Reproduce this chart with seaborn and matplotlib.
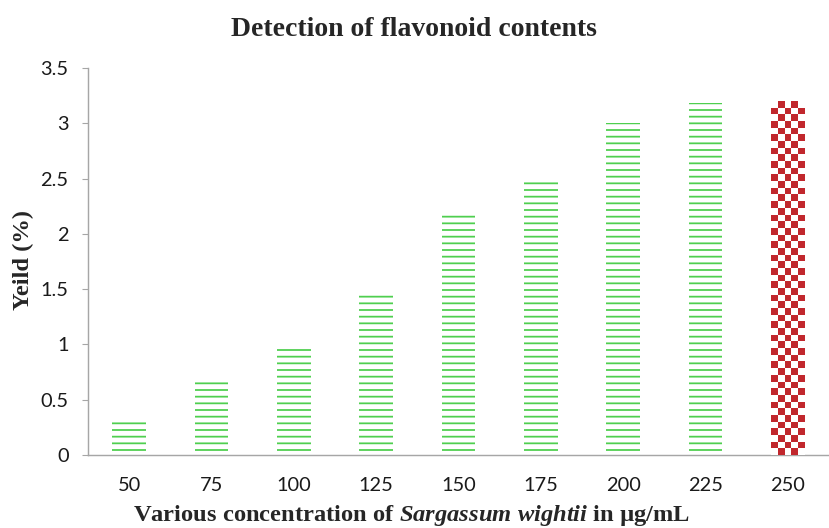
import numpy as np
import matplotlib
matplotlib.use("Agg")
import matplotlib.pyplot as plt
from matplotlib.colors import ListedColormap
import seaborn as sns
import pandas as pd

categories = ["50", "75", "100", "125", "150", "175", "200", "225", "250"]
values = [0.30, 0.67, 0.98, 1.46, 2.20, 2.50, 3.00, 3.18, 3.20]
yticks = [0, 0.5, 1, 1.5, 2, 2.5, 3, 3.5]
ytick_labels = ["0", "0.5", "1", "1.5", "2", "2.5", "3", "3.5"]

title = "Detection of flavonoid contents"
xlabel = r"Various concentration of $\mathit{Sargassum\ wightii}$ in µg/mL"
ylabel = "Yeild (%)"

green = "#4fcf4f"
red = "#c1272d"
grey = "#a6a6a6"

sns.set_theme(style="white")
plt.rcParams["font.family"] = ["Lato", "DejaVu Sans"]
plt.rcParams["mathtext.fontset"] = "custom"
plt.rcParams["mathtext.it"] = "Liberation Serif:italic:bold"
plt.rcParams["mathtext.rm"] = "Liberation Serif:bold"
plt.rcParams["mathtext.bf"] = "Liberation Serif:bold"
plt.rcParams["hatch.linewidth"] = 1.6

DPI = 80
W, H = 829, 528
fig = plt.figure(figsize=(W / DPI, H / DPI), dpi=DPI)
ax_left, ax_bottom, ax_top, ax_right = 88, 455, 68, 829
ax = fig.add_axes([ax_left / W, 1 - ax_bottom / H, (ax_right - ax_left) / W, (ax_bottom - ax_top) / H])

df = pd.DataFrame({"conc": categories, "yield": values})
sns.barplot(data=df, x="conc", y="yield", order=categories, color="white",
            width=0.41, edgecolor=green, linewidth=0, hatch="--", ax=ax,
            errorbar=None, saturation=1)

ax.set_ylim(0, 3.5)
ax.set_xlim(-0.5, len(categories) - 0.5)

# last bar: red checkerboard
last = ax.patches[len(categories) - 1]
last.set_hatch(None)
last.set_facecolor("white")
x0, w, h = last.get_x(), last.get_width(), last.get_height()
fig.canvas.draw()
p0 = ax.transData.transform((x0, 0))
p1 = ax.transData.transform((x0 + w, h))
sq = 6.67
ncols = max(1, int(round(abs(p1[0] - p0[0]) / sq)))
nrows = max(1, int(round(abs(p1[1] - p0[1]) / sq)))
board = (np.indices((nrows, ncols)).sum(axis=0) % 2).astype(float)
im = ax.imshow(board, cmap=ListedColormap(["white", red]), extent=(x0, x0 + w, 0, h),
               origin="upper", aspect="auto", interpolation="nearest", zorder=3)
im.set_clip_path(last)
ax.set_ylim(0, 3.5)
ax.set_xlim(-0.5, len(categories) - 0.5)

ax.set_yticks(yticks)
ax.set_yticklabels(ytick_labels)
ax.tick_params(axis="y", length=5.5, width=1, color=grey, direction="out", labelsize=18, pad=12, left=True)
ax.tick_params(axis="x", length=0, labelsize=18, pad=20)
for lab in ax.get_xticklabels() + ax.get_yticklabels():
    lab.set_color("#1a1a1a")

for s in ["top", "right"]:
    ax.spines[s].set_visible(False)
for s in ["left", "bottom"]:
    ax.spines[s].set_color(grey)
    ax.spines[s].set_linewidth(1.3)

ax.set_xlabel(xlabel, fontsize=22, fontfamily="Liberation Serif", fontweight="bold", va="center")
ax.set_ylabel(ylabel, fontsize=22, fontfamily="Liberation Serif", fontweight="bold", va="center")
ax.xaxis.set_label_coords((412 - ax_left) / (ax_right - ax_left), (ax_bottom - 515) / (ax_bottom - ax_top))
ax.yaxis.set_label_coords((23 - ax_left) / (ax_right - ax_left), (ax_bottom - 260) / (ax_bottom - ax_top))
fig.text(414 / W, 1 - 30 / H, title, ha="center", va="center",
         fontsize=25, fontfamily="Liberation Serif", fontweight="bold")

fig.savefig("out.png", dpi=DPI)
